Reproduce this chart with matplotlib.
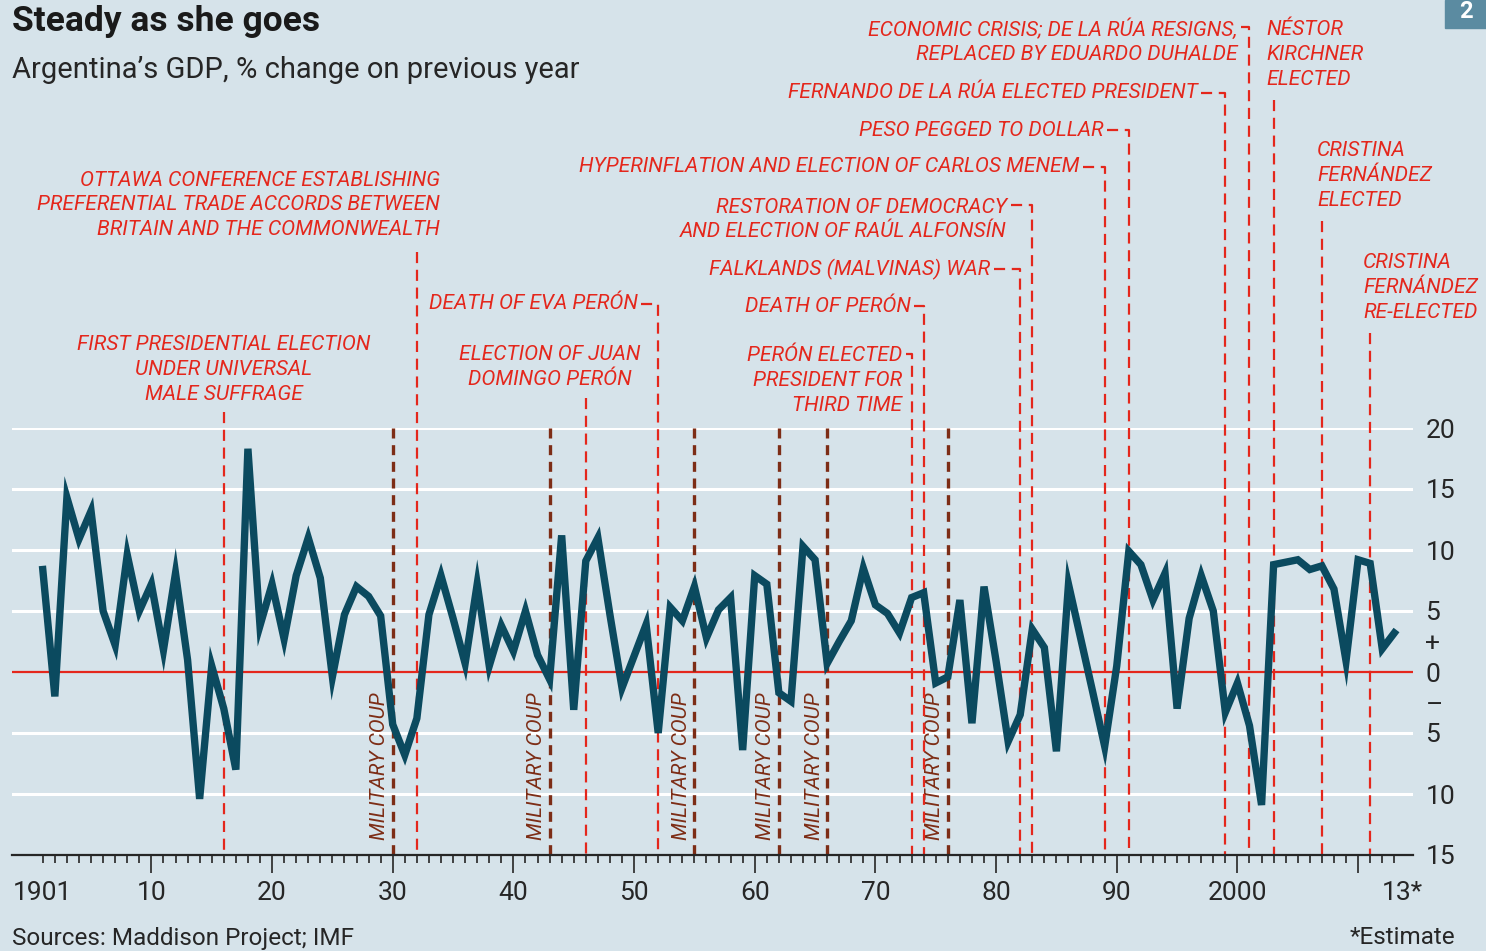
import matplotlib
matplotlib.use("Agg")
import matplotlib.pyplot as plt
from matplotlib import font_manager
from matplotlib.transforms import ScaledTranslation

# データ
years = list(range(1901, 2014))
gdp_growth = [
    8.4, -2.0, 14.3, 10.9, 13.2, 5.0, 2.2, 9.6, 5.0, 7.2,      # 1901-1910
    1.8, 8.1, 1.0, -10.4, 0.5, -3.0, -8.0, 18.3, 3.8, 7.2,     # 1911-1920
    2.7, 7.9, 11.0, 7.7, -0.4, 4.7, 7.0, 6.2, 4.6, -4.3,       # 1921-1930
    -6.8, -3.8, 4.7, 7.9, 4.4, 0.7, 7.2, 0.5, 3.8, 1.7,        # 1931-1940
    5.0, 1.4, -0.6, 11.2, -3.1, 9.1, 11.0, 4.7, -1.3, 1.3,     # 1941-1950
    3.9, -5.0, 5.3, 4.2, 7.0, 2.8, 5.1, 6.1, -6.4, 7.9,        # 1951-1960
    7.2, -1.7, -2.4, 10.3, 9.2, 0.7, 2.5, 4.2, 8.5, 5.5,       # 1961-1970
    4.8, 3.2, 6.1, 6.5, -0.9, -0.4, 5.9, -4.2, 7.0, 0.9,       # 1971-1980
    -5.7, -3.5, 3.5, 2.0, -6.5, 7.2, 2.8, -1.6, -6.1, 0.5,     # 1981-1990
    9.9, 8.8, 5.9, 8.1, -3.0, 4.4, 7.9, 5.0, -3.3, -0.9,       # 1991-2000
    -4.4, -10.9, 8.8, 9.0, 9.2, 8.4, 8.7, 6.8, 0.9, 9.2,       # 2001-2010
    8.9, 1.9, 3.2,                                             # 2011-2013
]

coup_years = [1930, 1943, 1955, 1962, 1966, 1976]
coup_label = "MILITARY COUP"

event_years = [1916, 1932, 1946, 1952, 1973, 1974, 1982, 1983,
               1989, 1991, 1999, 2001, 2003, 2007, 2011]
event_labels = [
    "FIRST PRESIDENTIAL ELECTION\nUNDER UNIVERSAL\nMALE SUFFRAGE",
    "OTTAWA CONFERENCE ESTABLISHING\nPREFERENTIAL TRADE ACCORDS BETWEEN\nBRITAIN AND THE COMMONWEALTH",
    "ELECTION OF JUAN\nDOMINGO PERÓN",
    "DEATH OF EVA PERÓN",
    "PERÓN ELECTED\nPRESIDENT FOR\nTHIRD TIME",
    "DEATH OF PERÓN",
    "FALKLANDS (MALVINAS) WAR",
    "RESTORATION OF DEMOCRACY\nAND ELECTION OF RAÚL ALFONSÍN",
    "HYPERINFLATION AND ELECTION OF CARLOS MENEM",
    "PESO PEGGED TO DOLLAR",
    "FERNANDO DE LA RÚA ELECTED PRESIDENT",
    "ECONOMIC CRISIS; DE LA RÚA RESIGNS,\nREPLACED BY EDUARDO DUHALDE",
    "NÉSTOR\nKIRCHNER\nELECTED",
    "CRISTINA\nFERNÁNDEZ\nELECTED",
    "CRISTINA\nFERNÁNDEZ\nRE-ELECTED",
]

x_tick_years = [1901, 1910, 1920, 1930, 1940, 1950, 1960, 1970, 1980, 1990, 2000, 2010, 2013]
x_tick_labels = ["1901", "10", "20", "30", "40", "50", "60", "70", "80", "90", "2000", "", "13*"]
y_tick_values = [20, 15, 10, 5, 2.5, 0, -2.5, -5, -10, -15]
y_tick_labels = ["20", "15", "10", "5", "+", "0", "–", "5", "10", "15"]
grid_values = [20, 15, 10, 5, -5, -10]

# 注記の配置: (文字x, 文字y中心, 揃え, 線の上端y, 引き出し線y)
event_layout = [
    (1916.0, 24.8, "center", 21.3, None),
    (1933.9, 38.3, "right", 34.4, None),
    (1943.0, 25.0, "center", 22.5, None),
    (1950.3, 30.2, "right", 30.2, 30.2),
    (1972.2, 23.9, "right", 26.1, 26.1),
    (1972.9, 30.0, "right", 30.0, 30.0),
    (1979.5, 33.0, "right", 33.0, 33.0),
    (1980.9, 37.1, "right", 38.3, 38.3),
    (1986.9, 41.4, "right", 41.4, 41.4),
    (1988.9, 44.4, "right", 44.4, 44.4),
    (1996.7, 47.5, "right", 47.5, 47.5),
    (2000.0, 51.7, "right", 52.9, 52.9),
    (2002.4, 50.6, "left", 46.9, None),
    (2006.6, 40.7, "left", 37.0, None),
    (2010.4, 31.5, "left", 27.8, None),
]

# フォント（細めのものがあれば使う）
installed = {f.name for f in font_manager.fontManager.ttflist}
narrow = "Liberation Sans Narrow" if "Liberation Sans Narrow" in installed else "Roboto"
plt.rcParams["font.family"] = [narrow, "DejaVu Sans"]

bg = "#d6e3ea"
line_col = "#0b4a5f"
red = "#e4271c"
brown = "#7d2d16"
dark = "#262626"

fig = plt.figure(figsize=(14.86, 9.51), dpi=100, facecolor=bg)
ax = fig.add_axes([12 / 1486, 1 - 855 / 951, (1413 - 12) / 1486, (855 - 428) / 951])
ax.set_facecolor(bg)

# グリッドとゼロ線
for g in grid_values:
    ax.axhline(g, color="white", lw=2.2, zorder=1)
ax.axhline(0, color=red, lw=1.6, zorder=2)

# クーデター線
for cy in coup_years:
    ax.plot([cy, cy], [20, -15], color=brown, lw=2.4, ls=(0, (3, 2)), zorder=3)
    ax.text(cy - 0.3, -13.8, coup_label, rotation=90, ha="right", va="bottom",
            color=brown, fontsize=15, style="italic", zorder=3)

# 出来事の線と注記
for yr, lab, (tx, ty, ha, top, conn) in zip(event_years, event_labels, event_layout):
    if conn is not None:
        xs, ys = [tx + 0.3, yr, yr], [conn, conn, -15]
    else:
        xs, ys = [yr, yr], [top, -15]
    ax.plot(xs, ys, color=red, lw=1.6, ls=(0, (5, 3)), clip_on=False, zorder=3)
    ax.text(tx, ty, lab, ha=ha, va="center", multialignment=ha, color=red,
            fontsize=15.1, style="italic", linespacing=1.38, clip_on=False)

# GDP
ax.plot(years, gdp_growth, color=line_col, lw=5.3, solid_joinstyle="miter", zorder=5)

ax.set_xlim(1898.45, 2014.55)
ax.set_ylim(-15, 20)

for s in ["top", "left", "right"]:
    ax.spines[s].set_visible(False)
ax.spines["bottom"].set_color(dark)
ax.spines["bottom"].set_linewidth(1.6)
ax.spines["bottom"].set_zorder(6)

ax.set_xticks(x_tick_years)
ax.set_xticklabels(x_tick_labels, fontsize=19, color=dark)
ax.set_xticks(years, minor=True)
ax.tick_params(axis="x", which="minor", length=6, width=1.2, color=dark)
ax.tick_params(axis="x", which="major", length=13, width=1.2, color=dark, pad=6)
for t, yr in zip(ax.xaxis.get_major_ticks(), x_tick_years):
    if yr in (1901, 2013):
        t.tick1line.set_markersize(6)
last = ax.get_xticklabels()[-1]
last.set_transform(last.get_transform() + ScaledTranslation(8 / 100, 0, fig.dpi_scale_trans))

ax.yaxis.tick_right()
ax.set_yticks(y_tick_values)
ax.set_yticklabels(y_tick_labels, fontsize=19, color=dark)
ax.tick_params(axis="y", length=0, pad=9)

# タイトルなど
fig.text(12 / 1486, 1 - 22 / 951, "Steady as she goes", fontsize=25.5, fontweight="bold",
         color="#1a1a1a", va="center", ha="left")
fig.text(12 / 1486, 1 - 70 / 951, "Argentina’s GDP, % change on previous year", fontsize=21,
         color=dark, va="center", ha="left")
fig.text(12 / 1486, 1 - 938 / 951, "Sources: Maddison Project; IMF", fontsize=17.5,
         color=dark, va="center", ha="left")
fig.text(1455 / 1486, 1 - 938 / 951, "*Estimate", fontsize=17.5,
         color=dark, va="center", ha="right")
fig.patches.append(plt.Rectangle((1445 / 1486, 1 - 28 / 951), 41 / 1486, 28 / 951,
                                 transform=fig.transFigure, color="#5b8ba1"))
fig.text(1466 / 1486, 1 - 12 / 951, "2", fontsize=17, fontweight="bold",
         color="white", va="center", ha="center")

fig.savefig("out.png", dpi=100, facecolor=bg)
plt.close()
